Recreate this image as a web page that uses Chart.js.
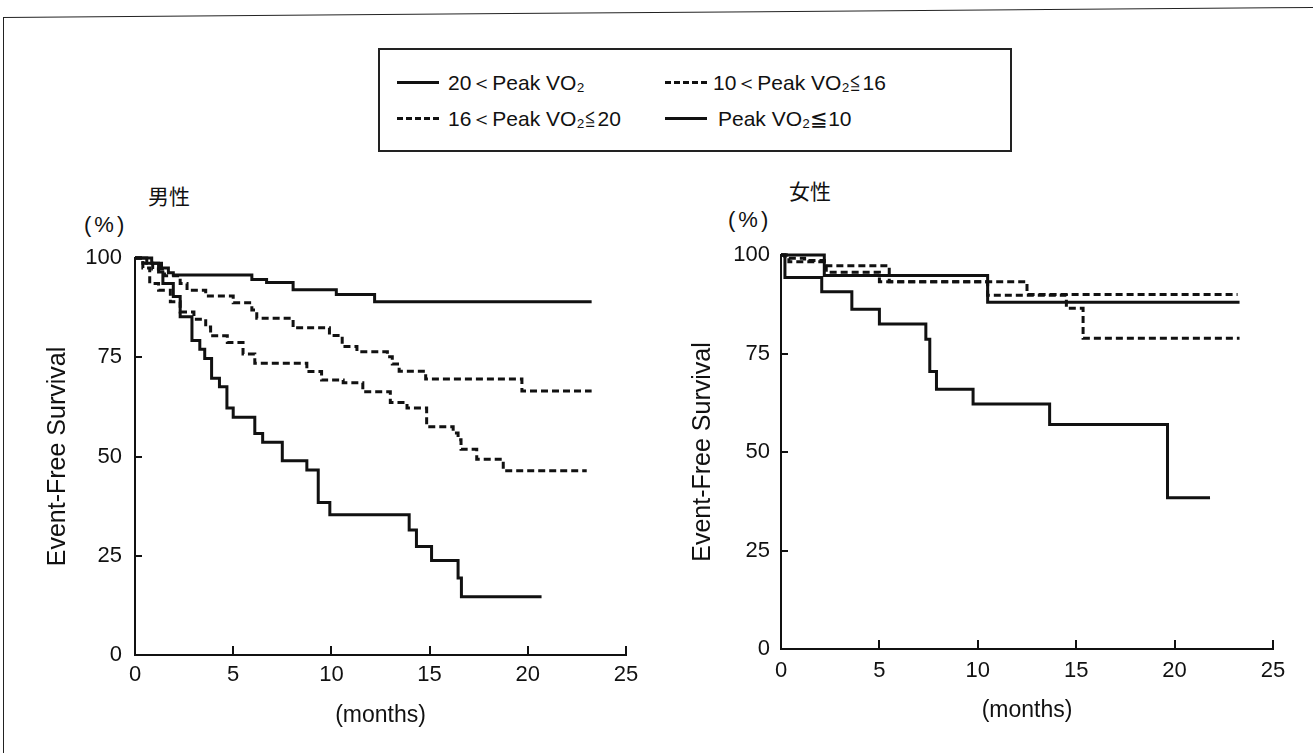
<!DOCTYPE html>
<html><head><meta charset="utf-8">
<script src="https://cdn.jsdelivr.net/npm/chart.js@4.4.0/dist/chart.umd.min.js"></script>
<style>
html,body{margin:0;padding:0;background:#fff;}
body{width:1313px;height:753px;position:relative;overflow:hidden;font-family:"Liberation Sans",Arial,sans-serif;color:#111;}
.abs{position:absolute;white-space:nowrap;}
#frameTop{position:absolute;left:3px;top:17px;width:1320px;height:0;border-top:1.5px solid #222;transform:rotate(-0.44deg);transform-origin:0 0;}
#frameLeft{position:absolute;left:3px;top:17px;width:0;height:760px;border-left:1.5px solid #222;}
#legendBox{position:absolute;left:378px;top:48px;width:630px;height:100px;border:2px solid #222;}
.lg-line{position:absolute;height:0;width:42px;}
.lg-text{position:absolute;font-size:21px;line-height:1;transform:translateY(-50%);white-space:nowrap;}
.lbl{position:absolute;line-height:1;transform:translateY(-50%);white-space:nowrap;}
canvas{position:absolute;}
</style></head>
<body>
<div id="frameTop"></div><div id="frameLeft"></div>
<div id="legendBox"></div>
<div id="legend"></div>
<div class="lbl" style="left:148px;top:195px;font-family:'Noto Sans CJK JP';font-size:21px;">男性</div>
<div class="lbl" style="left:84px;top:225px;font-size:22px;letter-spacing:3px;">(%)</div>
<div class="lbl" style="left:789px;top:190px;font-family:'Noto Sans CJK JP';font-size:21px;">女性</div>
<div class="lbl" style="left:728px;top:220px;font-size:22px;letter-spacing:3px;">(%)</div>
<canvas id="male" width="660" height="593" style="left:0;top:160px;width:660px;height:593px"></canvas>
<canvas id="female" width="653" height="593" style="left:660px;top:160px;width:653px;height:593px"></canvas>
<script>
// ---- data ----
const seriesNames = ["20＜Peak VO₂", "16＜Peak VO₂≦20", "10＜Peak VO₂≦16", "Peak VO₂≦10"];
const seriesDashed = [false, true, true, false];
const xTickValues = [0, 5, 10, 15, 20, 25];
const yTickValues = [0, 25, 50, 75, 100];
const xTitle = "(months)";
const yTitle = "Event-Free Survival";

// 男性 (months / survival %)
const maleT_20 = [0, 0.85, 1.35, 1.7, 1.95, 5.95, 6.7, 8.05, 10.25, 12.2, 23.25];
const maleS_20 = [100, 98.7, 97.5, 96.3, 95.7, 94.6, 93.8, 92.0, 90.8, 89.0, 89.0];
const maleT_16_20 = [0, 0.4, 0.9, 1.5, 2.3, 2.65, 3.6, 5.0, 5.95, 6.2, 8.05, 9.9, 10.55, 11.3, 12.85, 13.1, 13.45, 14.8, 19.7, 23.25];
const maleS_16_20 = [100, 98.7, 97.2, 95.5, 93.6, 91.9, 90.4, 88.7, 86.9, 84.8, 82.4, 80.5, 77.7, 76.4, 75.1, 73.3, 71.5, 69.5, 66.5, 66.5];
const maleT_10_16 = [0, 0.4, 0.75, 1.2, 1.8, 2.3, 3.0, 3.6, 3.85, 4.7, 5.5, 6.1, 8.75, 9.5, 10.6, 11.6, 13.0, 13.85, 14.85, 16.2, 16.45, 16.6, 17.4, 18.75, 23.0];
const maleS_10_16 = [100, 97.5, 93.6, 91.9, 89.0, 86.4, 84.6, 82.6, 80.4, 78.7, 75.8, 73.5, 71.4, 69.3, 68.6, 66.3, 63.6, 62.2, 57.5, 55.9, 54.2, 51.8, 49.3, 46.4, 46.4];
const maleT_10 = [0, 0.6, 1.2, 1.42, 1.95, 2.3, 2.9, 3.3, 3.55, 3.9, 4.3, 4.68, 5.0, 6.1, 6.5, 7.5, 8.75, 9.33, 9.92, 13.96, 14.33, 15.1, 16.45, 16.62, 20.7];
const maleS_10 = [100, 98.7, 96.5, 93.6, 90.3, 85.2, 79.2, 77.0, 74.7, 69.7, 67.6, 62.2, 59.9, 55.8, 53.6, 48.9, 46.6, 38.4, 35.3, 31.5, 27.3, 23.8, 19.4, 14.7, 14.7];

// 女性
const femT_20 = [0, 2.2, 10.5, 23.3];
const femS_20 = [100, 94.8, 88.0, 88.0];
const femT_16_20 = [0, 0.2, 1.2, 2.2, 5.5, 12.5, 23.2];
const femS_16_20 = [100, 99.2, 98.6, 97.3, 93.2, 90.0, 90.0];
const femT_10_16 = [0, 0.4, 2.3, 5.0, 10.5, 14.5, 15.35, 23.3];
const femS_10_16 = [100, 98.3, 95.6, 93.2, 89.8, 86.5, 78.9, 78.9];
const femT_10 = [0, 0.2, 2.07, 3.6, 5.0, 7.36, 7.56, 7.9, 9.76, 13.65, 19.64, 21.8];
const femS_10 = [100, 94.3, 90.7, 86.2, 82.5, 78.6, 70.4, 65.9, 62.2, 57.0, 38.4, 38.4];

// ---- legend (HTML) ----
const legendPos = [
  {lx: 397, tx: 448, y: 82},
  {lx: 397, tx: 448, y: 118},
  {lx: 665, tx: 713, y: 82},
  {lx: 665, tx: 718, y: 118}
];
const legendEl = document.getElementById('legend');
seriesNames.forEach((name, i) => {
  const p = legendPos[i];
  const ln = document.createElement('div');
  ln.className = 'lg-line';
  ln.style.left = p.lx + 'px';
  ln.style.top = (p.y - 1) + 'px';
  if (seriesDashed[i]) {
    ln.style.height = '3px';
    ln.style.background = 'repeating-linear-gradient(90deg,#111 0 6px,transparent 6px 9px)';
  } else {
    ln.style.borderTop = '3px solid #111';
  }
  legendEl.appendChild(ln);
  const tx = document.createElement('div');
  tx.className = 'lg-text';
  tx.style.left = p.tx + 'px';
  tx.style.top = p.y + 'px';
  tx.textContent = name;
  legendEl.appendChild(tx);
});

// ---- charts ----
function pts(t, s) { return t.map((v, i) => ({x: v, y: s[i]})); }

const innerTicks = {
  id: 'innerTicks',
  afterDraw(chart) {
    const {ctx, chartArea: a, scales: {x, y}} = chart;
    ctx.save();
    ctx.strokeStyle = '#111';
    ctx.lineWidth = 2;
    ctx.beginPath();
    x.ticks.forEach(t => {
      const px = Math.round(x.getPixelForValue(t.value));
      ctx.moveTo(px, a.bottom);
      ctx.lineTo(px, a.bottom - 9);
    });
    y.ticks.forEach(t => {
      const py = Math.round(y.getPixelForValue(t.value));
      ctx.moveTo(a.left, py);
      ctx.lineTo(a.left + 7, py);
    });
    ctx.stroke();
    ctx.restore();
  }
};

function makeChart(id, series, g) {
  const datasets = series.map((s, i) => ({
    label: seriesNames[i],
    data: pts(s[0], s[1]),
    borderColor: '#111',
    backgroundColor: '#111',
    borderWidth: 3,
    borderDash: seriesDashed[i] ? [7, 4] : [],
    stepped: 'before',
    pointRadius: 0,
    fill: false,
    clip: false
  }));
  return new Chart(document.getElementById(id), {
    type: 'line',
    data: {datasets},
    plugins: [innerTicks],
    options: {
      responsive: false,
      animation: false,
      layout: {padding: {top: g.top, right: g.right, left: 0, bottom: 0}},
      plugins: {legend: {display: false}, tooltip: {enabled: false}},
      scales: {
        x: {
          type: 'linear', min: 0, max: 25,
          afterBuildTicks: s => { s.ticks = xTickValues.map(v => ({value: v})); },
          afterFit: s => { s.height = g.xh; },
          grid: {display: false, drawTicks: false},
          border: {display: true, color: '#111', width: 2},
          ticks: {color: '#111', padding: g.xpad, font: {family: 'Liberation Sans', size: 22}, maxRotation: 0},
          title: {display: true, text: xTitle, color: '#111', font: {family: 'Liberation Sans', size: 23}, padding: {top: 0, bottom: g.xtp}}
        },
        y: {
          type: 'linear', min: 0, max: 100,
          afterBuildTicks: s => { s.ticks = yTickValues.map(v => ({value: v})); },
          afterFit: s => { s.width = g.yw; },
          grid: {display: false, drawTicks: false},
          border: {display: true, color: '#111', width: 2},
          ticks: {color: '#111', padding: g.ypad, font: {family: 'Liberation Sans', size: 22}},
          title: {display: true, text: yTitle, color: '#111', font: {family: 'Liberation Sans', size: 25}, padding: {top: g.ytp, bottom: 0}}
        }
      }
    }
  });
}

makeChart('male', [
  [maleT_20, maleS_20], [maleT_16_20, maleS_16_20], [maleT_10_16, maleS_10_16], [maleT_10, maleS_10]
], {top: 98, right: 34, xh: 98, yw: 135, xpad: 7, ypad: 13, xtp: 24, ytp: 43});

makeChart('female', [
  [femT_20, femS_20], [femT_16_20, femS_16_20], [femT_10_16, femS_10_16], [femT_10, femS_10]
], {top: 95, right: 40, xh: 104, yw: 121, xpad: 9, ypad: 11, xtp: 29, ytp: 28});
</script>
</body></html>
